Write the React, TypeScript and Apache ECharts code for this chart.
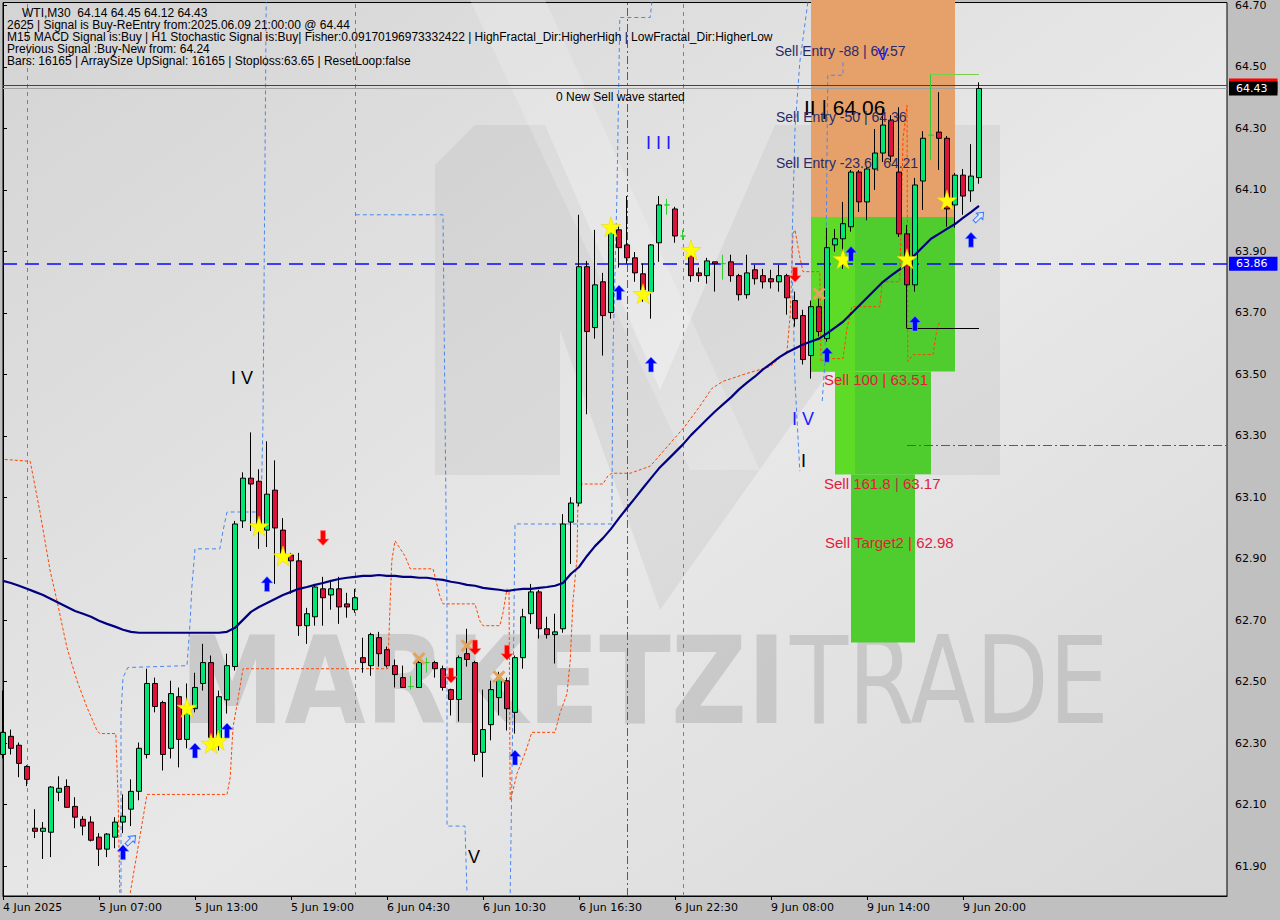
import React, { useEffect, useRef } from "react";
import * as echarts from "echarts";

// ---------- axis data ----------
const tickLabels = ["4 Jun 2025", "5 Jun 07:00", "5 Jun 13:00", "5 Jun 19:00", "6 Jun 04:30", "6 Jun 10:30", "6 Jun 16:30", "6 Jun 22:30", "9 Jun 08:00", "9 Jun 14:00", "9 Jun 20:00"];
const BARS_PER_TICK = 12;
const SLOTS = 154;
const priceTicks = [61.9, 62.1, 62.3, 62.5, 62.7, 62.9, 63.1, 63.3, 63.5, 63.7, 63.9, 64.1, 64.3, 64.5, 64.7];
const Y_MIN = 61.8025;
const Y_MAX = 64.7097;

// ---------- candles (WTI M30) ----------
const opens = [
  62.263, 62.322, 62.293, 62.224, 62.023, 62.013, 62.010, 62.140, 62.159, 62.094,
  62.052, 62.043, 61.994, 61.955, 61.994, 62.043, 62.085, 62.143, 62.263, 62.494,
  62.432, 62.283, 62.451, 62.312, 62.412, 62.494, 62.562, 62.309, 62.441, 62.549,
  63.023, 63.162, 63.152, 62.993, 63.123, 62.993, 62.912, 62.893, 62.682, 62.711,
  62.802, 62.782, 62.802, 62.753, 62.734, 62.578, 62.552, 62.643, 62.604, 62.552,
  62.513, 62.484, 62.481, 62.562, 62.562, 62.542, 62.474, 62.442, 62.591, 62.562,
  62.270, 62.360, 62.448, 62.503, 62.400, 62.578, 62.721, 62.792, 62.672, 62.653,
  62.672, 63.019, 63.081, 63.850, 63.652, 63.801, 63.701, 63.970, 63.921, 63.879,
  63.827, 63.769, 63.928, 64.051, 64.038, 63.950, 63.886, 63.830, 63.821, 63.866,
  63.860, 63.866, 63.821, 63.759, 63.840, 63.821, 63.811, 63.801, 63.821, 63.740,
  63.691, 63.561, 63.720, 63.616, 63.921, 63.941, 63.980, 64.158, 64.061, 64.168,
  64.220, 64.327, 64.158, 63.957, 63.791, 64.129, 64.278, 64.288, 64.268, 64.051,
  64.148, 64.097, 64.14,
];
const highs = [
  62.471, 62.344, 62.302, 62.228, 62.085, 62.043, 62.160, 62.192, 62.182, 62.124,
  62.062, 62.062, 62.007, 62.007, 62.059, 62.133, 62.182, 62.302, 62.542, 62.513,
  62.438, 62.503, 62.481, 62.494, 62.529, 62.623, 62.585, 62.471, 62.591, 63.023,
  63.181, 63.311, 63.191, 63.282, 63.220, 63.032, 62.919, 62.919, 62.740, 62.818,
  62.841, 62.831, 62.841, 62.789, 62.802, 62.643, 62.659, 62.662, 62.614, 62.572,
  62.552, 62.519, 62.568, 62.578, 62.568, 62.552, 62.477, 62.585, 62.672, 62.568,
  62.474, 62.503, 62.532, 62.513, 62.585, 62.737, 62.818, 62.799, 62.711, 62.721,
  63.045, 63.100, 64.019, 63.869, 63.970, 63.830, 63.980, 63.986, 64.080, 63.898,
  63.860, 63.924, 64.080, 64.071, 64.045, 63.970, 63.915, 63.847, 63.879, 63.866,
  63.889, 63.889, 63.827, 63.889, 63.856, 63.843, 63.840, 63.856, 63.827, 63.769,
  63.710, 63.740, 63.746, 63.977, 63.973, 64.061, 64.165, 64.165, 64.174, 64.298,
  64.363, 64.343, 64.369, 63.986, 64.139, 64.291, 64.476, 64.418, 64.275, 64.155,
  64.168, 64.249, 64.45,
];
const lows = [
  62.250, 62.263, 62.189, 62.160, 61.991, 61.923, 61.929, 62.111, 62.091, 62.023,
  62.000, 61.980, 61.900, 61.929, 61.958, 62.007, 62.030, 62.114, 62.250, 62.400,
  62.211, 62.250, 62.221, 62.283, 62.400, 62.471, 62.293, 62.276, 62.396, 62.536,
  63.000, 62.990, 62.932, 62.938, 62.818, 62.893, 62.786, 62.649, 62.623, 62.682,
  62.682, 62.734, 62.688, 62.708, 62.724, 62.529, 62.519, 62.549, 62.546, 62.481,
  62.481, 62.474, 62.481, 62.529, 62.513, 62.471, 62.390, 62.370, 62.549, 62.240,
  62.189, 62.309, 62.390, 62.341, 62.331, 62.542, 62.688, 62.640, 62.640, 62.559,
  62.659, 62.883, 63.071, 63.370, 63.616, 63.561, 63.681, 63.847, 63.860, 63.801,
  63.736, 63.681, 63.866, 64.019, 63.928, 63.937, 63.801, 63.801, 63.795, 63.769,
  63.808, 63.801, 63.740, 63.746, 63.792, 63.779, 63.779, 63.769, 63.694, 63.655,
  63.532, 63.486, 63.623, 63.606, 63.899, 63.843, 63.964, 64.028, 64.001, 64.100,
  64.191, 64.191, 63.947, 63.649, 63.769, 64.035, 64.197, 64.165, 63.980, 63.977,
  64.019, 64.061, 64.12,
];
const closes = [
  62.335, 62.283, 62.234, 62.182, 62.013, 62.023, 62.157, 62.153, 62.091, 62.059,
  62.030, 61.984, 61.955, 62.004, 62.043, 62.062, 62.143, 62.283, 62.494, 62.419,
  62.263, 62.461, 62.312, 62.422, 62.481, 62.562, 62.318, 62.451, 62.552, 63.013,
  63.162, 63.143, 62.990, 63.110, 63.000, 62.916, 62.893, 62.682, 62.721, 62.808,
  62.773, 62.802, 62.743, 62.743, 62.773, 62.562, 62.653, 62.591, 62.552, 62.523,
  62.481, 62.484, 62.562, 62.562, 62.542, 62.481, 62.442, 62.578, 62.572, 62.263,
  62.344, 62.474, 62.513, 62.412, 62.578, 62.711, 62.792, 62.672, 62.653, 62.662,
  63.013, 63.081, 63.850, 63.639, 63.791, 63.691, 63.964, 63.912, 63.879, 63.830,
  63.775, 63.921, 64.051, 64.051, 63.950, 63.950, 63.821, 63.821, 63.869, 63.860,
  63.860, 63.821, 63.759, 63.830, 63.811, 63.801, 63.801, 63.821, 63.749, 63.681,
  63.548, 63.720, 63.639, 63.912, 63.941, 63.990, 64.158, 64.061, 64.168, 64.220,
  64.311, 64.210, 63.957, 63.791, 64.116, 64.268, 64.278, 64.268, 64.038, 64.148,
  64.080, 64.145, 64.43,
];
const maValues = [
  62.828, 62.821, 62.812, 62.802, 62.792, 62.782, 62.769, 62.756, 62.743, 62.730,
  62.721, 62.711, 62.698, 62.688, 62.679, 62.669, 62.662, 62.659, 62.659, 62.659,
  62.659, 62.659, 62.659, 62.659, 62.659, 62.659, 62.659, 62.659, 62.662, 62.675,
  62.701, 62.727, 62.743, 62.756, 62.769, 62.782, 62.792, 62.802, 62.808, 62.815,
  62.821, 62.828, 62.834, 62.838, 62.841, 62.844, 62.844, 62.847, 62.844, 62.844,
  62.841, 62.841, 62.838, 62.838, 62.834, 62.831, 62.825, 62.821, 62.815, 62.812,
  62.805, 62.802, 62.799, 62.795, 62.799, 62.802, 62.802, 62.805, 62.808, 62.812,
  62.821, 62.851, 62.873, 62.909, 62.941, 62.967, 62.997, 63.032, 63.065, 63.097,
  63.130, 63.162, 63.194, 63.220, 63.246, 63.272, 63.302, 63.328, 63.354, 63.379,
  63.402, 63.425, 63.451, 63.473, 63.493, 63.516, 63.535, 63.555, 63.571, 63.584,
  63.597, 63.607, 63.616, 63.633, 63.652, 63.671, 63.697, 63.723, 63.749, 63.775,
  63.801, 63.821, 63.840, 63.860, 63.889, 63.915, 63.941, 63.957, 63.973, 63.989,
  64.009, 64.028, 64.048,
];

// ---------- indicator lines [barIndex, price] ----------
const orangeA = [
  [-0.4, 63.224], [3.4, 63.217], [4.6, 63.055], [5.9, 62.86], [6.75, 62.763], [8, 62.61], [9.25, 62.503],
  [10.5, 62.416], [11.75, 62.341], [12.1, 62.331], [14.1, 62.331], [14.4, 62.114], [14.6, 61.812],
];
const orangeB = [
  [15.9, 61.812], [17.1, 61.994], [18, 62.133], [28, 62.133], [28.4, 62.189], [28.75, 62.351], [29.4, 62.448],
  [30, 62.542], [48.1, 62.542], [48.4, 62.763], [48.6, 62.893], [49, 62.958], [50.25, 62.909], [50.9, 62.867],
  [53.75, 62.867], [54.6, 62.779], [55, 62.753], [59, 62.753], [59.6, 62.698], [60, 62.682], [62.1, 62.682],
  [62.5, 62.724], [63, 62.802], [63.25, 62.795], [63.4, 62.114], [63.75, 62.146], [64.25, 62.201],
  [64.9, 62.243], [65.5, 62.286], [66.1, 62.335], [69, 62.335], [69.6, 62.396], [70.5, 62.461],
  [70.9, 62.568], [71.25, 62.763], [71.75, 62.902], [71.9, 63.143], [75, 63.143], [75.6, 63.169],
  [76.1, 63.178], [78.4, 63.178], [80.9, 63.201], [82.75, 63.256], [85.25, 63.331], [87.1, 63.396],
  [88.6, 63.454], [90, 63.477], [93, 63.503], [95.9, 63.525], [98, 63.574], [98.4, 63.694], [98.75, 63.957],
  [99, 63.97], [99.6, 63.882], [100, 63.834], [102.1, 63.834], [102.25, 63.542], [103, 63.551], [105, 63.551],
  [105.5, 63.649], [106.1, 63.72], [109.6, 63.72], [109.9, 63.801], [112.1, 63.801], [112.5, 64.265],
  [113, 64.375], [113.1, 63.542], [113.75, 63.564], [116.25, 63.564], [116.75, 63.649], [117.1, 63.671],
];
const blueA = [
  [14.75, 61.812], [14.75, 62.396], [15, 62.513], [15.6, 62.546], [23, 62.552], [23.4, 62.698], [23.6, 62.805],
  [24, 62.932], [27.1, 62.932], [27.5, 62.99], [28, 63.052], [32.25, 63.052], [32.5, 63.347], [32.9, 64.71],
];
const blueB = [
  [44.1, 64.019], [55, 64.019], [55.5, 62.747], [55.5, 62.03], [57.75, 62.03], [58, 61.812],
];
const blueC = [
  [63.4, 61.812], [63.75, 62.438], [64, 63.013], [76.1, 63.013], [76.25, 63.574], [76.75, 64.093],
  [77.1, 64.661], [80.9, 64.661], [81.1, 64.71],
];
const blueD = [
  [100.6, 64.71], [99.6, 64.515], [99, 64.298], [98.6, 63.899], [99, 63.477], [99.6, 63.185],
];
const blueE = [
  [105, 64.515], [105, 64.473], [103.1, 64.473], [102.75, 63.542], [102.4, 63.412],
];

// ---------- signal markers [barIndex, price] ----------
const upArrows = [[15, 61.945], [24, 62.276], [28, 62.341], [33, 62.818], [64, 62.253], [77, 63.766], [81, 63.532], [103, 63.564], [106, 63.892], [114, 63.665], [121, 63.938]];
const hollowArrows = [[16, 61.984], [122, 64.012]];
const downArrows = [[40, 62.967], [56, 62.52], [59, 62.611], [63, 62.594], [99, 63.824]];
const stars = [[23, 62.416], [26, 62.299], [26.9, 62.309], [32, 63.006], [35, 62.909], [76, 63.98], [80, 63.762], [86, 63.905], [105, 63.876], [113, 63.876], [118, 64.067]];
const crosses = [[52, 62.575], [58, 62.617], [62, 62.516], [102, 63.762]];

// ---------- zones: [fromBar, toBar, topPrice, bottomPrice, colorIndex] ----------
const zones = [
  [101, 119, 64.72, 64.012, 0],
  [101, 119, 64.012, 63.509, 1],
  [104, 116, 63.509, 63.175, 1],
  [106, 114, 63.175, 62.627, 1],
  [101, 106.5, 64.012, 63.509, 2],
  [104, 106.5, 63.509, 63.175, 2],
];
const zoneColors = ["#e6a069", "#4fcd2e", "#5ddb27"];

// ---------- levels ----------
const bidPrice = 64.43;
const askPrice = 64.44;
const dashLevel = 63.86;
const targetLevel = 63.27;
const stopLevel = 63.65;
const highLevel = 64.476;
const daySeparators = [3, 44, 85];
const signalBar = 78;

const ARROW_UP = "path://M6,0 L12,6.5 L8.5,6.5 L8.5,15 L3.5,15 L3.5,6.5 L0,6.5 Z";
const ARROW_DOWN = "path://M6,15 L12,8.5 L8.5,8.5 L8.5,0 L3.5,0 L3.5,8.5 L0,8.5 Z";
const STAR = "path://M50,0 L61,35 L98,35 L68,57 L79,91 L50,70 L21,91 L32,57 L2,35 L39,35 Z";
const CROSS = "path://M0,2 L2,0 L6,4 L10,0 L12,2 L8,6 L12,10 L10,12 L6,8 L2,12 L0,10 L4,6 Z";

const infoLines = [
  "2625 | Signal is Buy-ReEntry from:2025.06.09 21:00:00 @ 64.44",
  "M15 MACD Signal is:Buy | H1 Stochastic Signal is:Buy| Fisher:0.09170196973332422 | HighFractal_Dir:HigherHigh | LowFractal_Dir:HigherLow",
  "Previous Signal :Buy-New from: 64.24",
  "Bars: 16165 | ArraySize UpSignal: 16165 | Stoploss:63.65 | ResetLoop:false",
];

function txt(text: string, x: number, y: number, size: number, fill: string, extra: any = {}) {
  return {
    type: "text",
    x,
    y,
    z: 100,
    silent: true,
    style: {
      text,
      fill,
      fontSize: size,
      fontFamily: "Liberation Sans",
      textVerticalAlign: "middle",
      textAlign: "left",
      ...extra,
    },
  };
}

function buildOption() {
  const categories = Array.from({ length: SLOTS }, (_, i) =>
    i % BARS_PER_TICK === 0 && i / BARS_PER_TICK < tickLabels.length ? tickLabels[i / BARS_PER_TICK] : "b" + i
  );
  const isTick = (i: number) => i % BARS_PER_TICK === 0 && i / BARS_PER_TICK < tickLabels.length;
  const candleData = opens.map((o, i) => [o, closes[i], lows[i], highs[i]]);

  const dashedLine = (data: number[][], color: string, type: any) => ({
    type: "line",
    xAxisIndex: 1,
    yAxisIndex: 0,
    data,
    symbol: "none",
    silent: true,
    z: 4,
    lineStyle: { color, width: 1, type },
  });

  const labelBox = (bg: string, fg: string, text: string) => ({
    show: true,
    position: "end",
    distance: 2,
    formatter: text,
    backgroundColor: bg,
    color: fg,
    fontFamily: "DejaVu Sans",
    fontSize: 11,
    padding: [2, 10, 1, 7],
  });

  const watermark = [
    {
      type: "polygon",
      z: 1,
      silent: true,
      shape: {
        points: [[435, 475], [435, 165], [475, 125], [545, 125], [660, 390], [775, 125], [1000, 125], [1000, 475], [880, 475], [880, 300], [660, 610], [560, 330], [560, 475]],
      },
      style: { fill: "rgba(150,150,150,0.14)" },
    },
    {
      type: "polygon",
      z: 1,
      silent: true,
      shape: { points: [[470, 0], [545, 0], [760, 470], [690, 470]] },
      style: { fill: "rgba(255,255,255,0.2)" },
    },
    {
      type: "text",
      x: 180,
      y: 681,
      z: 1,
      silent: true,
      scaleX: 0.86,
      style: { text: "MARKETZI", fontSize: 122, fontWeight: "bold", fontFamily: "DejaVu Sans", fill: "rgba(130,130,130,0.27)", textVerticalAlign: "middle" },
    },
    {
      type: "text",
      x: 790,
      y: 681,
      z: 1,
      silent: true,
      scaleX: 0.78,
      style: { text: "TRADE", fontSize: 122, fontFamily: "DejaVu Sans", fill: "rgba(130,130,130,0.27)", textVerticalAlign: "middle" },
    },
  ];

  const navy = "#2a2a68";
  const red = "#e0203c";
  const texts = [
    txt("WTI,M30  64.14 64.45 64.12 64.43", 22, 13, 12, "#000"),
    ...infoLines.map((t, k) => txt(t, 7, 25 + 12 * k, 12, "#000")),
    txt("0 New Sell wave started", 556, 97, 12, "#000"),
    txt("Sell Entry -88 | 64.57", 775, 51, 14, navy),
    txt("V", 877, 54, 17, "#1a1aff"),
    txt("II | 64.06", 804, 107, 21, "#000"),
    txt("Sell Entry -50 | 64.36", 776, 117, 14, navy),
    txt("Sell Entry -23.6 | 64.21", 776, 163, 14, navy),
    txt("I I I", 646, 143, 18, "#1a1aff"),
    txt("I V", 231, 378, 18, "#000"),
    txt("I V", 792, 419, 18, "#1a1aff"),
    txt("I", 801, 461, 18, "#000"),
    txt("V", 468, 857, 18, "#000"),
    txt("Sell 100 | 63.51", 824, 379, 15, red),
    txt("Sell 161.8 | 63.17", 824, 483, 15, red),
    txt("Sell Target2 | 62.98", 825, 542, 15, red),
  ];

  return {
    animation: false,
    backgroundColor: "#c0c0c0",
    grid: {
      left: 3,
      right: 53,
      top: 0,
      bottom: 24,
      show: true,
      backgroundColor: {
        type: "linear",
        x: 0,
        y: 0,
        x2: 1,
        y2: 1,
        colorStops: [
          { offset: 0, color: "#d4d4d4" },
          { offset: 0.55, color: "#e8e8e8" },
          { offset: 1, color: "#d8d8d8" },
        ],
      },
      borderColor: "#000",
      borderWidth: 1,
    },
    xAxis: [
      {
        type: "category",
        data: categories,
        boundaryGap: false,
        axisLine: { show: true, lineStyle: { color: "#000" } },
        axisTick: { show: true, interval: (i: number) => isTick(i), length: 4, lineStyle: { color: "#000" } },
        axisLabel: { interval: (i: number) => isTick(i), align: "left", color: "#000", fontFamily: "DejaVu Sans", fontSize: 11, margin: 6 },
        splitLine: { show: false },
      },
      { type: "value", min: 0, max: SLOTS - 1, show: false },
    ],
    yAxis: {
      type: "value",
      position: "right",
      min: Y_MIN,
      max: Y_MAX,
      axisLine: { show: true, lineStyle: { color: "#000" } },
      axisTick: { show: true, customValues: priceTicks, length: 4, lineStyle: { color: "#000" } },
      axisLabel: {
        customValues: priceTicks,
        formatter: (v: number) => v.toFixed(2),
        color: "#000",
        fontFamily: "DejaVu Sans",
        fontSize: 11,
        margin: 8,
      },
      splitLine: { show: false },
    },
    graphic: { elements: [...watermark, ...texts] },
    series: [
      {
        type: "custom",
        xAxisIndex: 1,
        yAxisIndex: 0,
        data: zones,
        z: 2,
        silent: true,
        encode: { x: [0, 1], y: [2, 3] },
        renderItem: (params: any, api: any) => {
          const p1 = api.coord([api.value(0), api.value(2)]);
          const p2 = api.coord([api.value(1), api.value(3)]);
          return {
            type: "rect",
            shape: { x: p1[0], y: p1[1], width: p2[0] - p1[0], height: p2[1] - p1[1] },
            style: { fill: zoneColors[api.value(4)] },
          };
        },
      },
      {
        ...dashedLine(orangeA, "#ff4500", [3, 2]),
        markLine: {
          silent: true,
          symbol: ["none", "none"],
          label: { show: false },
          data: [
            ...daySeparators.map((b) => ({ xAxis: b, lineStyle: { color: "#808080", type: [4, 4], width: 1 } })),
            { xAxis: signalBar, lineStyle: { color: "#c0208a", type: [8, 3, 2, 3], width: 1 } },
            [
              { coord: [113, targetLevel], lineStyle: { color: "#c03030", type: [9, 3, 2, 3], width: 1 } },
              { coord: [SLOTS - 1, targetLevel] },
            ],
            [{ coord: [113, stopLevel], lineStyle: { color: "#000", type: "solid", width: 1 } }, { coord: [122, stopLevel] }],
            [{ coord: [116, highLevel], lineStyle: { color: "#7ccf4a", type: "solid", width: 1 } }, { coord: [122, highLevel] }],
            { yAxis: dashLevel, lineStyle: { color: "#0a0aff", type: [14, 8], width: 1.6 }, label: labelBox("#0000ff", "#fff", dashLevel.toFixed(2)) },
            { yAxis: askPrice, lineStyle: { color: "#e00000", type: "solid", width: 1 }, label: labelBox("#ff0000", "#ff0000", askPrice.toFixed(2)) },
            { yAxis: bidPrice, lineStyle: { color: "#a0a0a0", type: "solid", width: 1 }, label: labelBox("#000", "#fff", bidPrice.toFixed(2)) },
          ],
        },
      },
      dashedLine(orangeB, "#ff4500", [3, 2]),
      dashedLine(blueA, "#4a86f0", [4, 3]),
      dashedLine(blueB, "#4a86f0", [4, 3]),
      dashedLine(blueC, "#4a86f0", [4, 3]),
      dashedLine(blueD, "#4a86f0", [4, 3]),
      dashedLine(blueE, "#4a86f0", [4, 3]),
      {
        type: "candlestick",
        xAxisIndex: 0,
        yAxisIndex: 0,
        data: candleData,
        barWidth: 5,
        z: 5,
        silent: true,
        itemStyle: {
          color: "#00e676",
          color0: "#dc143c",
          borderColor: "#000",
          borderColor0: "#000",
          borderColorDoji: "#32cd32",
          borderWidth: 1,
        },
      },
      {
        type: "line",
        xAxisIndex: 0,
        yAxisIndex: 0,
        data: maValues,
        symbol: "none",
        silent: true,
        z: 6,
        lineStyle: { color: "#000080", width: 2.2 },
      },
      {
        type: "scatter",
        xAxisIndex: 1,
        data: crosses,
        symbol: CROSS,
        symbolSize: 13,
        z: 7,
        silent: true,
        itemStyle: { color: "#e3a35c", opacity: 1 },
      },
      {
        type: "scatter",
        xAxisIndex: 1,
        data: stars,
        symbol: STAR,
        symbolSize: 20,
        z: 7,
        silent: true,
        itemStyle: { color: "#ffff00", borderColor: "#e8d000", borderWidth: 0.5, opacity: 1 },
      },
      {
        type: "scatter",
        xAxisIndex: 1,
        data: upArrows,
        symbol: ARROW_UP,
        symbolSize: [12, 15],
        z: 8,
        silent: true,
        itemStyle: { color: "#0000ff", borderColor: "#7fa8ff", borderWidth: 0.6, opacity: 1 },
      },
      {
        type: "scatter",
        xAxisIndex: 1,
        data: downArrows,
        symbol: ARROW_DOWN,
        symbolSize: [12, 15],
        z: 8,
        silent: true,
        itemStyle: { color: "#ff0000", borderColor: "#ff8080", borderWidth: 0.6, opacity: 1 },
      },
      {
        type: "scatter",
        xAxisIndex: 1,
        data: hollowArrows,
        symbol: ARROW_UP,
        symbolSize: [9, 13],
        symbolRotate: -45,
        z: 8,
        silent: true,
        itemStyle: { color: "rgba(225,235,255,0.7)", borderColor: "#3a78ff", borderWidth: 1, opacity: 1 },
      },
    ],
  };
}

export default function App() {
  const ref = useRef<HTMLDivElement>(null);
  useEffect(() => {
    document.body.style.margin = "0";
    const chart = echarts.init(ref.current as HTMLDivElement, null, { renderer: "svg" });
    chart.setOption(buildOption() as any);
    return () => chart.dispose();
  }, []);
  return <div ref={ref} style={{ position: "fixed", left: 0, top: 0, width: 1280, height: 920 }} />;
}
